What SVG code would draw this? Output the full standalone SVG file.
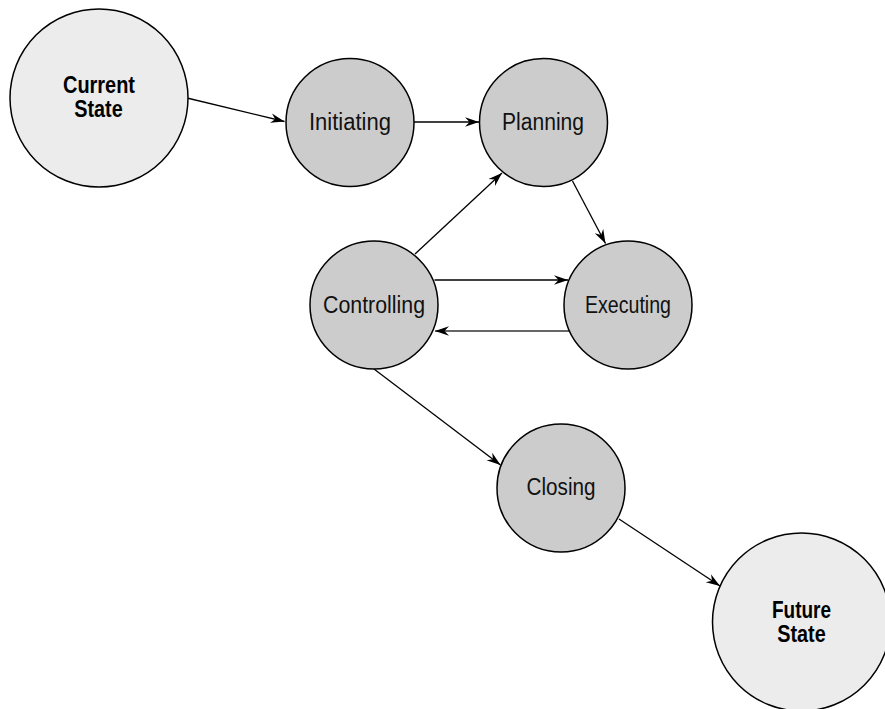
<svg xmlns="http://www.w3.org/2000/svg" width="885" height="709" viewBox="0 0 885 709">
<style>
.big{fill:#ececec;stroke:#000;stroke-width:1.5}
.small{fill:#cccccc;stroke:#000;stroke-width:1.5}
.lbl{font-family:"Liberation Sans",Arial,sans-serif;font-size:23px;fill:#111;text-anchor:middle}
.bold{font-family:"Liberation Sans",Arial,sans-serif;font-size:23px;font-weight:bold;fill:#000;text-anchor:middle}
.conn line{stroke:#000;stroke-width:1.3;marker-end:url(#arr)}
</style>
<defs>
<marker id="arr" viewBox="-14 -6 15 12" refX="0" refY="0" markerWidth="15" markerHeight="12" markerUnits="userSpaceOnUse" orient="auto">
<path d="M0,0 L-14,-4.8 L-9.5,0 L-14,4.8 Z" fill="#000"/>
</marker>
</defs>
<rect width="885" height="709" fill="#fff"/>
<g class="conn" id="connectors">
<line x1="187" y1="98" x2="284.5" y2="121.5"/>
<line x1="414" y1="122" x2="479" y2="122"/>
<line x1="415" y1="254" x2="502" y2="173"/>
<line x1="572.5" y1="181" x2="605.5" y2="243.5"/>
<line x1="434.5" y1="280" x2="568" y2="280"/>
<line x1="569" y1="331" x2="435" y2="331" style="stroke:#333;stroke-width:1.6"/>
<line x1="374" y1="369" x2="500.5" y2="465"/>
<line x1="619" y1="519" x2="720" y2="586"/>
</g>
<g id="current-state">
<circle class="big" cx="99" cy="98" r="89"/>
<text class="bold"><tspan x="99" y="93" textLength="72" lengthAdjust="spacingAndGlyphs">Current</tspan><tspan x="98.5" y="117" textLength="48.5" lengthAdjust="spacingAndGlyphs">State</tspan></text>
</g>
<g id="initiating">
<circle class="small" cx="350" cy="122.5" r="64"/>
<text class="lbl" x="350" y="130" textLength="82" lengthAdjust="spacingAndGlyphs">Initiating</text>
</g>
<g id="planning">
<circle class="small" cx="543.5" cy="122.5" r="64"/>
<text class="lbl" x="543" y="129.5" textLength="82" lengthAdjust="spacingAndGlyphs">Planning</text>
</g>
<g id="controlling">
<circle class="small" cx="374" cy="305" r="64"/>
<text class="lbl" x="374" y="312.5" textLength="102" lengthAdjust="spacingAndGlyphs">Controlling</text>
</g>
<g id="executing">
<circle class="small" cx="628" cy="305" r="64"/>
<text class="lbl" x="628" y="312.5" textLength="86" lengthAdjust="spacingAndGlyphs">Executing</text>
</g>
<g id="closing">
<circle class="small" cx="561" cy="488" r="64"/>
<text class="lbl" x="561" y="495" textLength="69" lengthAdjust="spacingAndGlyphs">Closing</text>
</g>
<g id="future-state">
<circle class="big" cx="801.5" cy="622" r="89"/>
<text class="bold"><tspan x="801.5" y="618" textLength="59" lengthAdjust="spacingAndGlyphs">Future</tspan><tspan x="801.5" y="642" textLength="48.5" lengthAdjust="spacingAndGlyphs">State</tspan></text>
</g>
</svg>
